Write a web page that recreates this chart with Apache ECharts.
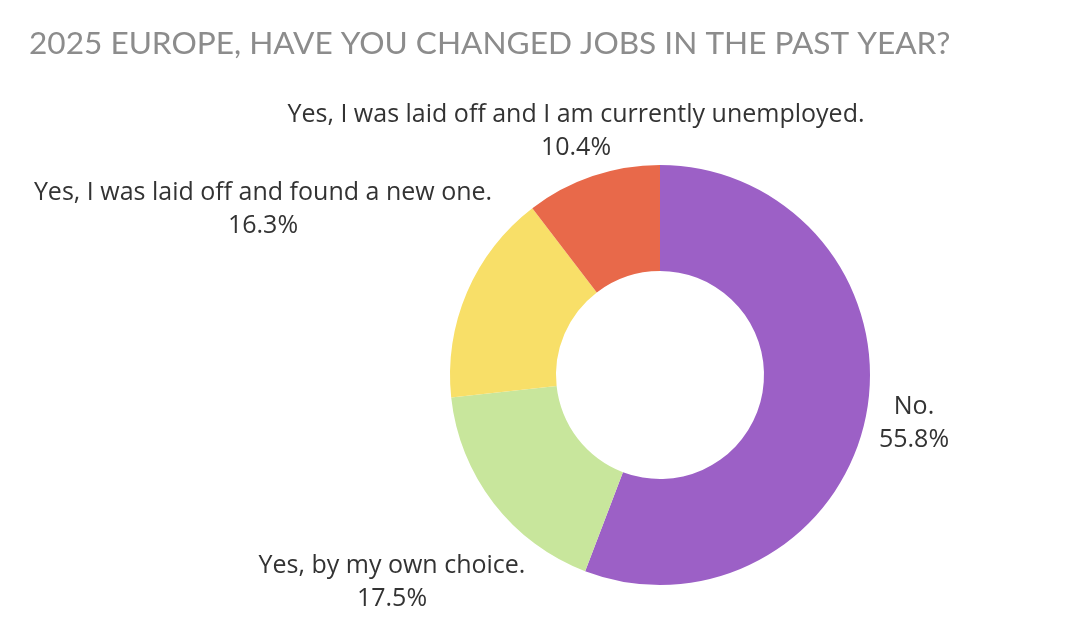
<!DOCTYPE html>
<html><head><meta charset="utf-8">
<script src="https://cdn.jsdelivr.net/npm/echarts@6/dist/echarts.min.js"></script>
<style>html,body{margin:0;padding:0;background:#fff}#c{width:1080px;height:637px}</style>
</head><body><div id="c"></div>
<script>
const categories = ["No.", "Yes, by my own choice.", "Yes, I was laid off and found a new one.", "Yes, I was laid off and I am currently unemployed."];
const values = [55.8, 17.5, 16.3, 10.4];
const colors = ["#9c60c6", "#c8e69c", "#f8df68", "#e8694a"];

// label anchor points (label centres) per slice
const labelAnchors = [[914, 423], [392, 582], [263, 209], [576, 131]];

const chart = echarts.init(document.getElementById('c'), null, {renderer: 'canvas'});
chart.setOption({
  animation: false,
  title: {
    text: "2025 EUROPE, HAVE YOU CHANGED JOBS IN THE PAST YEAR?",
    left: 24, top: 23,
    textStyle: {fontFamily: "Lato", fontWeight: 'normal', fontSize: 31.6, color: '#8c8c8c'}
  },
  series: [{
    type: 'pie',
    center: [660, 375],
    radius: [104, 210],
    startAngle: 90,
    clockwise: true,
    avoidLabelOverlap: false,
    data: categories.map((c, i) => ({name: c, value: values[i], itemStyle: {color: colors[i]}})),
    label: {
      show: true,
      position: 'outside',
      formatter: p => '{a|' + p.name + '}\n{a|' + p.value.toFixed(1) + '%}',
      rich: {a: {fontFamily: 'Open Sans', fontSize: 25, color: '#333', lineHeight: 33, align: 'center'}}
    },
    labelLine: {show: false},
    labelLayout: p => ({x: labelAnchors[p.dataIndex][0], y: labelAnchors[p.dataIndex][1], align: 'center', verticalAlign: 'middle'}),
    emphasis: {disabled: true}
  }]
});
</script></body></html>
